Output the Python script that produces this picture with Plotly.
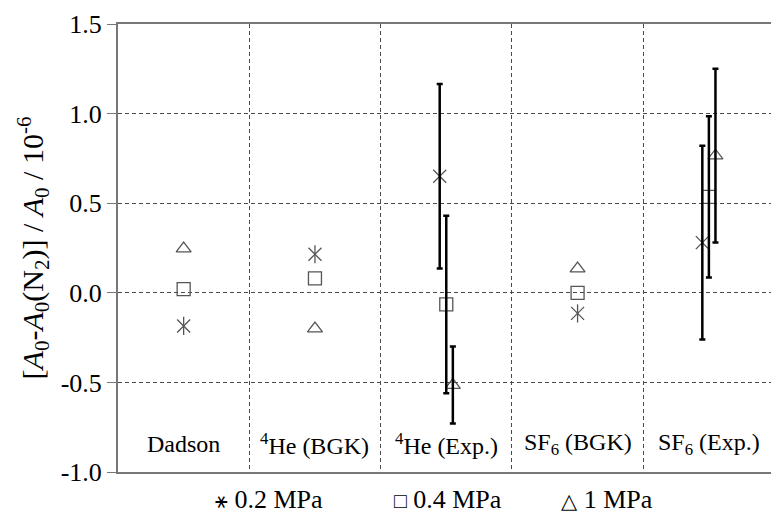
import plotly.graph_objects as go

# ---- data ----
categories = ["Dadson", "<sup>4</sup>He (BGK)", "<sup>4</sup>He (Exp.)",
              "SF<sub>6</sub> (BGK)", "SF<sub>6</sub> (Exp.)"]
series_names = ["0.2 MPa", "0.4 MPa", "1 MPa"]
vals_02MPa = [-0.185, 0.215, 0.65, -0.115, 0.28]
vals_04MPa = [0.02, 0.08, -0.065, 0.0, 0.535]
vals_1MPa = [0.247, -0.20, -0.515, 0.135, 0.765]
err_02MPa = [None, None, 0.515, None, 0.54]
err_04MPa = [None, None, 0.495, None, 0.45]
err_1MPa = [None, None, 0.215, None, 0.485]
yticks = [-1.0, -0.5, 0.0, 0.5, 1.0, 1.5]
ytick_labels = ["-1.0", "-0.5", "0.0", "0.5", "1.0", "1.5"]

# ---- style ----
MARK = "#555555"
GRID = "#4a4a4a"
AXIS = "#777777"
FONT = "Liberation Serif, Tinos, Times New Roman, DejaVu Serif, serif"
offsets = [-0.05, 0.0, 0.05]
symbols = [["x-thin-open", "line-ns-open"], ["square-open"], ["triangle-up-open"]]

series = [vals_02MPa, vals_04MPa, vals_1MPa]
errors = [err_02MPa, err_04MPa, err_1MPa]

fig = go.Figure()

for s, (vals, errs) in enumerate(zip(series, errors)):
    xs = [i + (offsets[s] if errs[i] is not None else 0.0) for i in range(len(vals))]
    for sym in symbols[s]:
        fig.add_trace(go.Scatter(
            x=xs, y=vals, mode="markers", name=series_names[s], showlegend=False,
            marker=dict(symbol=sym, size=13, color=MARK,
                        line=dict(color=MARK, width=1.3)),
            hoverinfo="skip"))

# error bar traces (drawn on top)
for s, (vals, errs) in enumerate(zip(series, errors)):
    ex = [i + offsets[s] for i in range(len(vals)) if errs[i] is not None]
    ey = [vals[i] for i in range(len(vals)) if errs[i] is not None]
    ee = [errs[i] for i in range(len(vals)) if errs[i] is not None]
    fig.add_trace(go.Scatter(
        x=ex, y=ey, mode="markers", showlegend=False,
        marker=dict(size=1, color="rgba(0,0,0,0)"),
        error_y=dict(type="data", array=ee, symmetric=True,
                     color="black", thickness=2.5, width=3),
        hoverinfo="skip"))

# category labels inside the plot
for i, c in enumerate(categories):
    fig.add_annotation(x=i, y=-0.845, xref="x", yref="y", text=c, showarrow=False,
                       font=dict(family=FONT, size=24, color="black"),
                       xanchor="center", yanchor="middle")

# legend as text
legend_items = [("\u26b9", "0.2 MPa", 0.145), ("\u25a1", "0.4 MPa", 0.42), ("\u25b3", "1 MPa", 0.676)]
for sym, txt, px in legend_items:
    fig.add_annotation(x=px, y=-0.062, xref="paper", yref="paper",
                       text=f"<span style='font-size:21px'>{sym}</span> {txt}",
                       showarrow=False, xanchor="left", yanchor="middle",
                       font=dict(family=FONT, size=26, color="black"))

fig.update_layout(
    width=771, height=521,
    margin=dict(l=118, r=0, t=24, b=49),
    plot_bgcolor="white", paper_bgcolor="white",
    font=dict(family=FONT, color="black"),
    showlegend=False,
)
fig.update_xaxes(
    range=[-0.5, 4.473], tickvals=[0.5, 1.5, 2.5, 3.5], showticklabels=False,
    ticks="", showgrid=True, gridcolor=GRID, gridwidth=1, griddash="4px,3px",
    zeroline=False, showline=True, linecolor=AXIS, linewidth=2, mirror=True,
)
fig.update_yaxes(
    range=[-1.0, 1.5], tickvals=yticks, ticktext=ytick_labels,
    ticks="outside", ticklen=9, tickcolor=AXIS, tickwidth=1,
    showgrid=True, gridcolor=GRID, gridwidth=1, griddash="4px,3px",
    zeroline=False, showline=True, linecolor=AXIS, linewidth=2,
    tickfont=dict(family=FONT, size=26, color="black"),
    title=dict(text="[<i>A</i><sub>0</sub>-<i>A</i><sub>0</sub>(N<sub>2</sub>)] / <i>A</i><sub>0</sub> / 10<sup>-6</sup>",
               font=dict(family=FONT, size=30, color="black"), standoff=8),
)

fig.write_html("out.html", config={"displayModeBar": False},
               post_script="document.body.style.margin='0px';")
